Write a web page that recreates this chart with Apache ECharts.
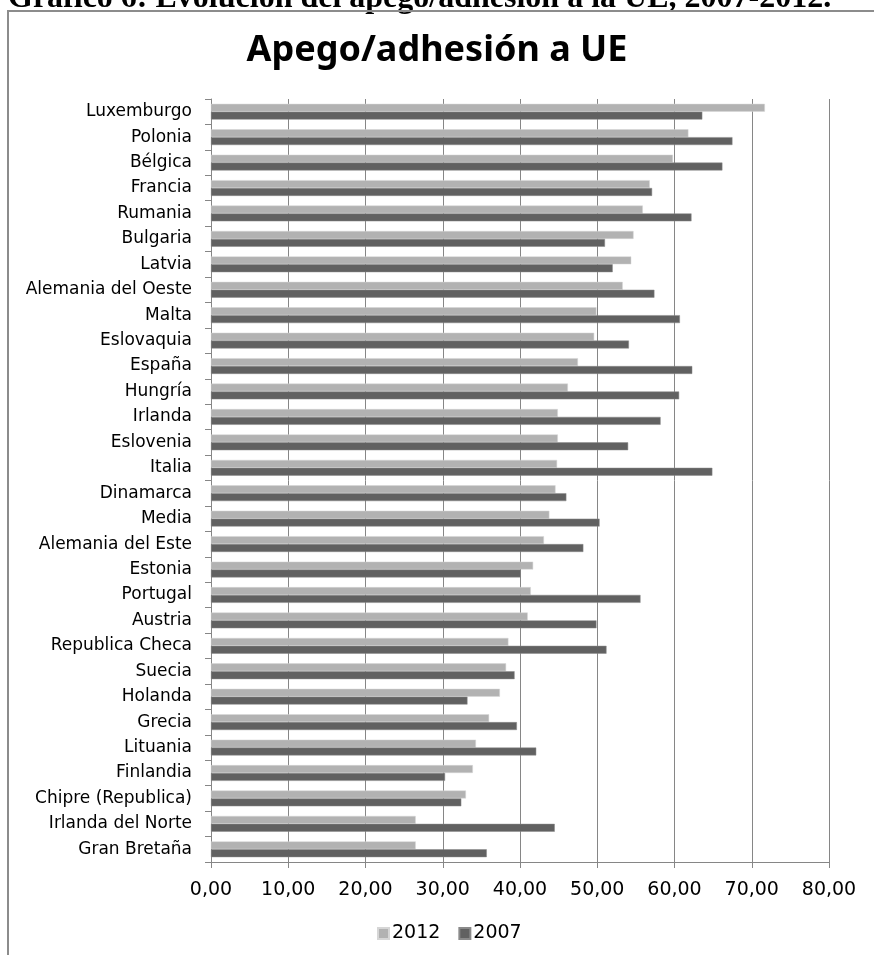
<!DOCTYPE html>
<html>
<head>
<meta charset="utf-8">
<script src="https://cdn.jsdelivr.net/npm/echarts@6/dist/echarts.min.js"></script>
<style>
html,body{margin:0;padding:0;background:#fff;}
#chart{width:874px;height:955px;}
</style>
</head>
<body>
<div id="chart"></div>
<script>
const headerText = 'Gráfico 6: Evolución del apego/adhesión a la UE, 2007-2012.';
const chartTitle = 'Apego/adhesión a UE';
const categories = ['Luxemburgo','Polonia','Bélgica','Francia','Rumania','Bulgaria','Latvia','Alemania del Oeste','Malta','Eslovaquia','España','Hungría','Irlanda','Eslovenia','Italia','Dinamarca','Media','Alemania del Este','Estonia','Portugal','Austria','Republica Checa','Suecia','Holanda','Grecia','Lituania','Finlandia','Chipre (Republica)','Irlanda del Norte','Gran Bretaña'];
const seriesNames = ['2012','2007'];
const values2012 = [71.7,61.8,59.8,56.8,55.9,54.7,54.4,53.3,49.9,49.6,47.5,46.2,44.9,44.9,44.8,44.6,43.8,43.1,41.7,41.4,41.0,38.5,38.2,37.4,36.0,34.3,33.9,33.0,26.5,26.5];
const values2007 = [63.6,67.5,66.2,57.1,62.2,51.0,52.0,57.4,60.7,54.1,62.3,60.6,58.2,54.0,64.9,46.0,50.3,48.2,40.1,55.6,49.9,51.2,39.3,33.2,39.6,42.1,30.3,32.4,44.5,35.7];
const axisMin = 0, axisMax = 80, axisStep = 10;

const chart = echarts.init(document.getElementById('chart'), null, {renderer:'canvas'});
const axisGray = '#868686';
chart.setOption({
  animation: false,
  backgroundColor: '#ffffff',
  title: {
    text: chartTitle,
    left: 'center',
    top: 28,
    textStyle: {fontFamily: 'Noto Sans', fontSize: 36, fontWeight: 'bold', color: '#000'}
  },
  legend: {
    data: seriesNames,
    left: 372,
    top: 919,
    itemWidth: 11,
    itemHeight: 11,
    itemGap: 18,
    icon: 'rect',
    textStyle: {fontFamily: 'DejaVu Sans', fontSize: 19, color: '#000', padding: [0,0,0,-2]}
  },
  grid: {left: 211, top: 99, width: 618, height: 763, containLabel: false},
  xAxis: {
    type: 'value',
    min: axisMin, max: axisMax, interval: axisStep,
    axisLine: {show: true, lineStyle: {color: axisGray, width: 1}},
    axisTick: {show: true, length: 6, lineStyle: {color: axisGray}},
    splitLine: {show: true, lineStyle: {color: axisGray, width: 1}},
    axisLabel: {
      margin: 19,
      fontFamily: 'DejaVu Sans', fontSize: 19, color: '#000',
      formatter: v => v.toFixed(2).replace('.', ',')
    }
  },
  yAxis: {
    type: 'category',
    data: categories,
    inverse: true,
    axisLine: {show: true, lineStyle: {color: axisGray, width: 1}},
    axisTick: {show: true, length: 6, lineStyle: {color: axisGray}},
    axisLabel: {margin: 19, fontFamily: 'DejaVu Sans', fontSize: 17, color: '#000'}
  },
  series: [
    {name: seriesNames[0], type: 'bar', data: values2012, barGap: '0%', barCategoryGap: '38%',
     itemStyle: {color: '#b2b2b2', borderColor: '#d6d6d6', borderWidth: 0.5}},
    {name: seriesNames[1], type: 'bar', data: values2007, barGap: '0%', barCategoryGap: '38%',
     itemStyle: {color: '#616161', borderColor: '#8a8a8a', borderWidth: 0.5}}
  ],
  graphic: [
    {type: 'text', left: 8, top: -17, silent: true,
     style: {text: headerText, font: 'bold 32px "Liberation Serif"', fill: '#000'}},
    {type: 'rect', silent: true, shape: {x: 8, y: 11, width: 1000, height: 1000},
     style: {fill: 'none', stroke: '#8c8c8c', lineWidth: 2}}
  ]
});
</script>
</body>
</html>
